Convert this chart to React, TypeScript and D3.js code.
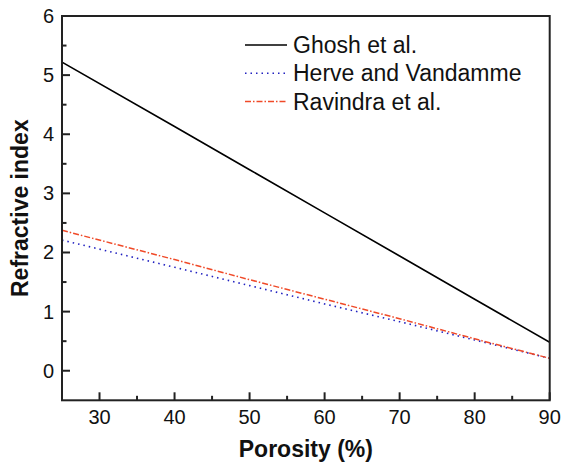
import React from "react";
import * as d3 from "d3";

const porosity = [25, 40, 50, 60, 70, 80, 90];
const ghosh = [5.22, 4.13, 3.4, 2.67, 1.94, 1.21, 0.48];
const herve = [2.21, 1.75, 1.44, 1.13, 0.83, 0.52, 0.21];
const ravindra = [2.375, 1.88, 1.54, 1.21, 0.88, 0.54, 0.21];
const seriesNames = ["Ghosh et al.", "Herve and Vandamme", "Ravindra et al."];
const xTicks = [30, 40, 50, 60, 70, 80, 90];
const yTicks = [0, 1, 2, 3, 4, 5, 6];
const xMinor = [35, 45, 55, 65, 75, 85];
const yMinor = [0.5, 1.5, 2.5, 3.5, 4.5, 5.5];

const W = 562, H = 466;
const L = 62, R = 549.7, T = 16, B = 400.3;

export default function App() {
  const x = d3.scaleLinear().domain([25, 90]).range([L, R]);
  const y = d3.scaleLinear().domain([-0.5, 6]).range([B, T]);
  const line = (vals: number[]) =>
    d3.line<number>().x((_, i) => x(porosity[i])).y((v) => y(v))(vals) || "";
  const styles = [
    { stroke: "#000000", dash: undefined, width: 1.6 },
    { stroke: "#2020c0", dash: "1.5,4", width: 1.6 },
    { stroke: "#f04a28", dash: "6,2,1.5,2", width: 1.5 },
  ];
  const data = [ghosh, herve, ravindra];
  const font = "'Liberation Sans', Arial, sans-serif";
  const axisColor = "#222";
  return (
    <svg width={W} height={H} style={{ position: "absolute", left: 0, top: 0 }} fontFamily={font}>
      <rect width={W} height={H} fill="#fff" />
      <defs>
        <clipPath id="clip">
          <rect x={L} y={T} width={R - L} height={B - T} />
        </clipPath>
      </defs>
      <g clipPath="url(#clip)">
        {data.map((d, i) => (
          <path key={i} d={line(d)} fill="none" stroke={styles[i].stroke}
            strokeWidth={styles[i].width} strokeDasharray={styles[i].dash} />
        ))}
      </g>
      <rect x={L} y={T} width={R - L} height={B - T} fill="none" stroke={axisColor} strokeWidth={2} />
      {xTicks.map((t) => (
        <g key={"x" + t}>
          <line x1={x(t)} x2={x(t)} y1={B} y2={B - 8} stroke={axisColor} strokeWidth={2} />
          <text x={x(t)} y={424} fontSize={20} textAnchor="middle" fill="#111">{t}</text>
        </g>
      ))}
      {xMinor.map((t) => (
        <line key={"xm" + t} x1={x(t)} x2={x(t)} y1={B} y2={B - 4.5} stroke={axisColor} strokeWidth={2} />
      ))}
      {yTicks.map((t) => (
        <g key={"y" + t}>
          <line x1={L} x2={L + 8} y1={y(t)} y2={y(t)} stroke={axisColor} strokeWidth={2} />
          <text x={54} y={y(t) + 7} fontSize={20} textAnchor="end" fill="#111">{t}</text>
        </g>
      ))}
      {yMinor.map((t) => (
        <line key={"ym" + t} x1={L} x2={L + 4.5} y1={y(t)} y2={y(t)} stroke={axisColor} strokeWidth={2} />
      ))}
      <text x={(L + R) / 2} y={457} fontSize={23} fontWeight="bold" textAnchor="middle" fill="#111">Porosity (%)</text>
      <text transform={`translate(28,${(T + B) / 2}) rotate(-90)`} fontSize={23} fontWeight="bold" textAnchor="middle" fill="#111">Refractive index</text>
      {seriesNames.map((n, i) => {
        const ly = 45 + i * 28.3;
        return (
          <g key={n}>
            <line x1={245} x2={287} y1={ly} y2={ly} stroke={styles[i].stroke}
              strokeWidth={styles[i].width} strokeDasharray={styles[i].dash} />
            <text x={293} y={ly + 8} fontSize={23} fill="#111">{n}</text>
          </g>
        );
      })}
    </svg>
  );
}
